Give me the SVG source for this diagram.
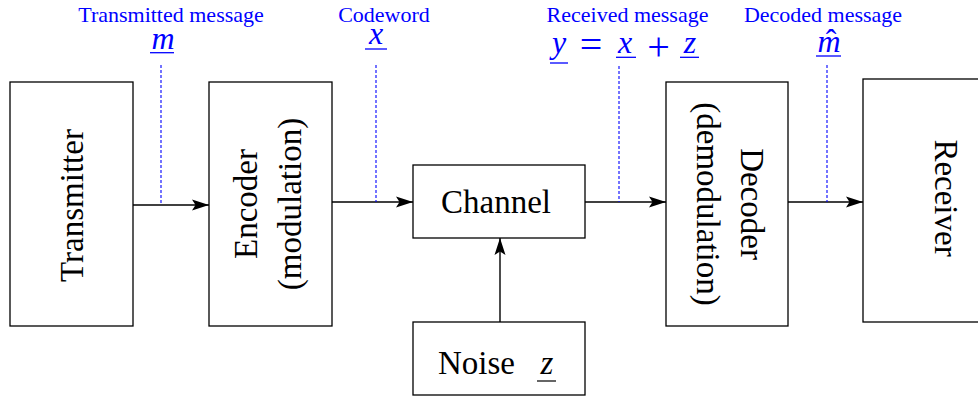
<svg xmlns="http://www.w3.org/2000/svg" width="978" height="397" viewBox="0 0 978 397">
<style>
.box{fill:#fff;stroke:#000;stroke-width:1.3}
.t{font-family:"Liberation Serif","Times New Roman",serif;font-size:33px;fill:#000;text-anchor:middle}
.lbl{font-family:"Liberation Serif","Times New Roman",serif;font-size:22px;fill:#0000ff;text-anchor:middle}
.math{font-family:"Liberation Serif","Times New Roman",serif;font-size:32px;font-style:italic;fill:#0000ff;text-anchor:middle}
.mathr{font-family:"Liberation Serif","Times New Roman",serif;font-size:32px;fill:#0000ff;text-anchor:middle}
.op{font-family:"Liberation Serif","Times New Roman",serif;font-size:40px;fill:#0000ff;text-anchor:middle}
.ul{stroke:#0000ff;stroke-width:1.3}
.dash{stroke:#0000ff;stroke-width:1.1;stroke-dasharray:3,2;fill:none}
.arr{stroke:#000;stroke-width:1.4;fill:none;marker-end:url(#ah)}
</style>
<defs>
<marker id="ah" markerWidth="18" markerHeight="14" refX="17" refY="7" orient="auto" markerUnits="userSpaceOnUse">
<path d="M0,1.5 L17,7 L0,12.5 L3.5,7 z" fill="#000"/>
</marker>
</defs>
<rect width="978" height="397" fill="#fff"/>
<g id="transmitter">
<rect class="box" x="10" y="82" width="123" height="244"/>
<text class="t" transform="translate(71.5,205.5) rotate(-90)" y="11">Transmitter</text>
</g>
<g id="encoder">
<rect class="box" x="209" y="82" width="123" height="244"/>
<text class="t" transform="translate(270.5,204) rotate(-90)"><tspan x="0" y="-13.5">Encoder</tspan><tspan x="0" y="30.5">(modulation)</tspan></text>
</g>
<g id="channel">
<rect class="box" x="413" y="165" width="172" height="73"/>
<text class="t" x="496" y="213">Channel</text>
</g>
<g id="noise">
<rect class="box" x="413" y="322" width="172" height="73"/>
<text class="t" x="476.5" y="374">Noise</text>
<text class="t" x="547" y="374" font-style="italic">z</text>
<line x1="537" y1="381" x2="556" y2="381" stroke="#000" stroke-width="1.2"/>
</g>
<g id="decoder">
<rect class="box" x="666" y="82" width="122" height="244"/>
<text class="t" transform="translate(727,204) rotate(90)"><tspan x="0" y="-14">Decoder</tspan><tspan x="0" y="30">(demodulation)</tspan></text>
</g>
<g id="receiver">
<rect class="box" x="863" y="79" width="124" height="243"/>
<text class="t" transform="translate(924,198) rotate(90)" y="-11">Receiver</text>
</g>
<g id="connectors">
<line class="arr" x1="133" y1="205" x2="209" y2="205"/>
<line class="arr" x1="332" y1="202" x2="413" y2="202"/>
<line class="arr" x1="585" y1="202" x2="666" y2="202"/>
<line class="arr" x1="788" y1="202" x2="863" y2="202"/>
<line class="arr" x1="500" y1="322" x2="500" y2="238"/>
<line class="dash" x1="161" y1="65" x2="161" y2="205"/>
<line class="dash" x1="376" y1="65" x2="376" y2="202"/>
<line class="dash" x1="619" y1="66" x2="619" y2="202"/>
<line class="dash" x1="827" y1="65" x2="827" y2="202"/>
</g>
<g id="label-transmitted">
<text class="lbl" x="171" y="22">Transmitted message</text>
<text class="math" x="163" y="49">m</text>
<line class="ul" x1="150" y1="52.7" x2="174" y2="52.7"/>
</g>
<g id="label-codeword">
<text class="lbl" x="384" y="22">Codeword</text>
<text class="math" x="376" y="44">x</text>
<line class="ul" x1="365" y1="49" x2="387" y2="49"/>
</g>
<g id="label-received">
<text class="lbl" x="627.5" y="22">Received message</text>
<text class="math" x="559" y="53">y</text>
<line class="ul" x1="550" y1="63" x2="568" y2="63"/>
<text class="op" x="591" y="58">=</text>
<text class="math" x="625" y="53">x</text>
<line class="ul" x1="616" y1="57.3" x2="636" y2="57.3"/>
<text class="op" x="658.5" y="60">+</text>
<text class="math" x="690" y="53">z</text>
<line class="ul" x1="680" y1="57.3" x2="699" y2="57.3"/>
</g>
<g id="label-decoded">
<text class="lbl" x="823" y="22">Decoded message</text>
<text class="math" x="829" y="51.7">m</text>
<text class="mathr" x="831" y="51">ˆ</text>
<line class="ul" x1="816" y1="56" x2="841" y2="56"/>
</g>
</svg>
